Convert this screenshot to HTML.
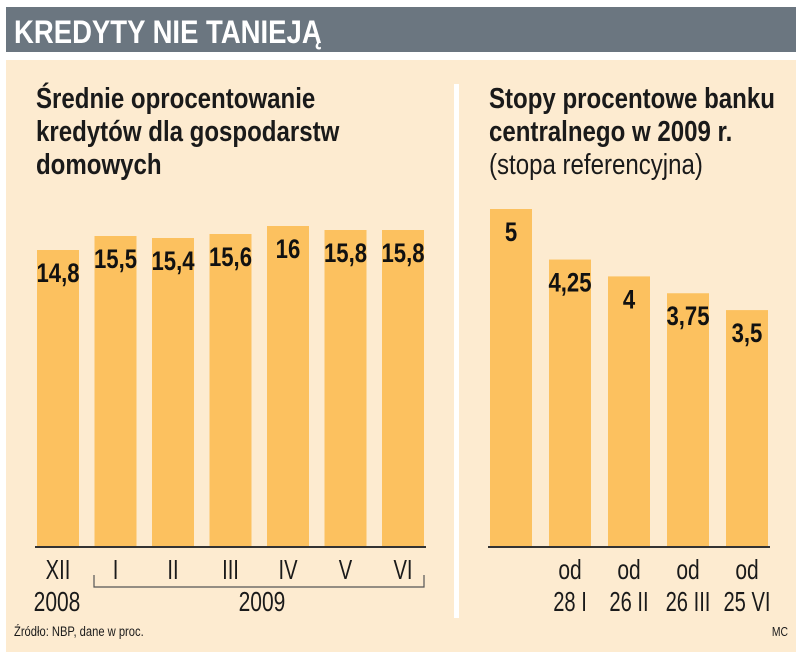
<!DOCTYPE html>
<html><head><meta charset="utf-8"><style>
body{margin:0;background:#fff;width:805px;height:658px;overflow:hidden}
svg{display:block;font-family:"Liberation Sans",sans-serif}
</style></head><body>
<svg width="805" height="658" viewBox="0 0 805 658">
<rect x="6" y="7" width="790" height="45" fill="#6b7680"/>
<text x="14" y="43" font-size="32" font-weight="bold" fill="#fff" transform="translate(14,0) scale(0.86,1) translate(-14,0)">KREDYTY NIE TANIEJĄ</text>
<rect x="6" y="60" width="790" height="592" fill="#fdebd0"/>
<rect x="454" y="84" width="5" height="534" fill="#fff"/>
<g font-size="29" font-weight="bold" fill="#1a1a1a">
<text x="36" y="108" transform="translate(36,0) scale(0.83,1) translate(-36,0)">Średnie oprocentowanie</text>
<text x="36" y="141" transform="translate(36,0) scale(0.83,1) translate(-36,0)">kredytów dla gospodarstw</text>
<text x="36" y="174" transform="translate(36,0) scale(0.83,1) translate(-36,0)">domowych</text>
</g>
<g font-size="29" fill="#1a1a1a">
<text x="489" y="108" font-weight="bold" transform="translate(489,0) scale(0.83,1) translate(-489,0)">Stopy procentowe banku</text>
<text x="489" y="141" font-weight="bold" transform="translate(489,0) scale(0.83,1) translate(-489,0)">centralnego w 2009 r.</text>
<text x="489" y="174" transform="translate(489,0) scale(0.83,1) translate(-489,0)">(stopa referencyjna)</text>
</g>
<g id="left"></g>
<g id="right"></g>
<g font-size="28" fill="#1a1a1a" text-anchor="middle">
<text x="57" y="611" transform="translate(57,0) scale(0.75,1) translate(-57,0)">2008</text>
<text x="262" y="611" transform="translate(262,0) scale(0.75,1) translate(-262,0)">2009</text>
</g>
<path d="M94,575 V587 H424 V575" fill="none" stroke="#555" stroke-width="1.2"/>
<text x="14" y="636" font-size="14" fill="#1a1a1a" transform="translate(14,0) scale(0.8,1) translate(-14,0)">Źródło: NBP, dane w proc.</text>
<text x="788" y="636" font-size="13" fill="#1a1a1a" text-anchor="end" transform="translate(788,0) scale(0.8,1) translate(-788,0)">MC</text>
</svg>
<script>
const leftCats=["XII","I","II","III","IV","V","VI"];
const leftVals=[14.8,15.5,15.4,15.6,16,15.8,15.8];
const leftLabels=["14,8","15,5","15,4","15,6","16","15,8","15,8"];
const rightCats1=["","od","od","od","od"];
const rightCats2=["","28 I","26 II","26 III","25 VI"];
const rightVals=[5,4.25,4,3.75,3.5];
const rightLabels=["5","4,25","4","3,75","3,5"];
const NS="http://www.w3.org/2000/svg";
const base=546;
function mk(tag,attrs,parent){const e=document.createElementNS(NS,tag);for(const k in attrs)e.setAttribute(k,attrs[k]);parent.appendChild(e);return e;}
function sx(t,cx,s){t.setAttribute('transform',`translate(${cx},0) scale(${s||0.82},1) translate(${-cx},0)`);}
function draw(g,vals,labels,x0,pitch,scale,bw,lineX1,lineX2,name){
  vals.forEach((v,i)=>{
    const x=x0+i*pitch,h=v*scale,y=base-h;
    const r=mk('rect',{x:x,y:y,width:bw,height:h,fill:'#fcc15f'},g);
    
    
    const t=mk('text',{x:x+bw/2,y:y+32,'font-size':27,'font-weight':'bold','text-anchor':'middle',fill:'#111'},g);
    t.textContent=labels[i];sx(t,x+bw/2);
    
    
  });
  const l=mk('line',{x1:lineX1,x2:lineX2,y1:base+1,y2:base+1,stroke:'#333','stroke-width':2},g);
  
  
}
const L=document.getElementById('left'),R=document.getElementById('right');
draw(L,leftVals,leftLabels,37,57.5,20,42,35,426,'left');
leftCats.forEach((c,i)=>{const cx=37+i*57.5+21;const t=mk('text',{x:cx,y:579,'font-size':28,'text-anchor':'middle',fill:'#1a1a1a'},L);t.textContent=c;sx(t,cx,0.72);

});
draw(R,rightVals,rightLabels,490,59,67.4,42,488,770,'right');
rightCats1.forEach((c,i)=>{const cx=490+i*59+21;
const t=mk('text',{x:cx,y:579,'font-size':28,'text-anchor':'middle',fill:'#1a1a1a'},R);t.textContent=c;sx(t,cx,0.75);


const t2=mk('text',{x:cx,y:611,'font-size':28,'text-anchor':'middle',fill:'#1a1a1a'},R);t2.textContent=rightCats2[i];sx(t2,cx,0.72);

});
</script>
</body></html>
